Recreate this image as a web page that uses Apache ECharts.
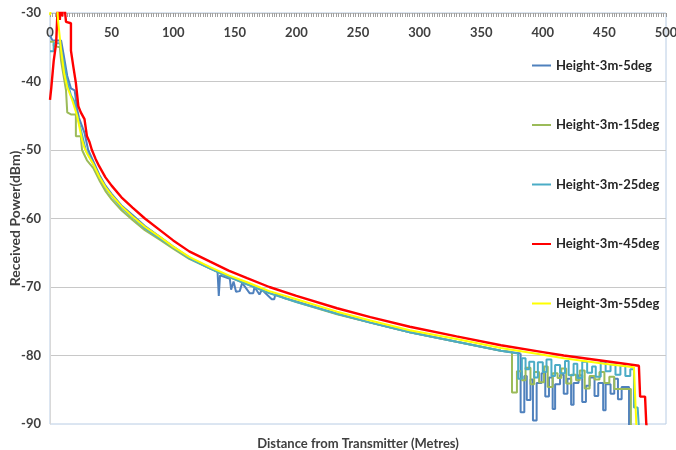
<!DOCTYPE html>
<html>
<head>
<meta charset="utf-8">
<title>Received Power vs Distance</title>
<script src="https://cdn.jsdelivr.net/npm/echarts@6/dist/echarts.min.js"></script>
<style>
    html, body { margin: 0; padding: 0; background: #fff; }
    #chart { width: 676px; height: 450px; }
</style>
</head>
<body>
<div id="chart"></div>
<script>
// series names (legend order)
var names = ['Height-3m-5deg', 'Height-3m-15deg', 'Height-3m-25deg', 'Height-3m-45deg', 'Height-3m-55deg'];
var colors = ['#4F81BD', '#9BBB59', '#4BACC6', '#FF0000', '#FFFF00'];

// 5 deg
var dist5 = [0, 2, 9, 11, 14, 17, 20, 22, 23.5, 28, 31, 35, 40, 45, 50, 58, 67, 77, 90, 100, 113, 130, 136, 137, 138, 146, 147, 149, 151, 154, 156, 162, 165, 166, 170, 172, 180, 182, 183, 190, 200, 233, 260, 292, 330, 366, 382];
var pow5 = [-33.3, -34, -34, -36, -39.2, -41, -41.3, -44, -45.3, -47.5, -50, -51.6, -53.6, -55.2, -56.4, -58.1, -59.5, -61.1, -62.8, -64.1, -65.7, -67.2, -67.8, -71.3, -68.3, -68.8, -70.4, -69.2, -70.7, -70.6, -69.4, -70.9, -70.9, -70.0, -71.1, -70.4, -71.8, -71.8, -71.0, -71.6, -72.1, -73.9, -75.2, -76.6, -78, -79.3, -79.7];
var noiseDist5 = [382, 382, 385, 387, 390, 392, 395, 399, 402, 405, 408, 410, 414, 417, 420, 423, 425, 429, 432, 435, 438, 442, 445, 449, 451, 455, 458, 461, 464, 470];
var noisePow5 = [-79.7, -88.3, -83.0, -86.5, -83.5, -89.5, -84.0, -82.6, -86.0, -83.2, -87.8, -84.2, -82.8, -85.6, -83.4, -87.2, -84.0, -82.9, -86.8, -84.4, -83.2, -85.9, -84.0, -88.0, -84.2, -85.6, -83.4, -86.4, -84.6, -90.5];

// 15 deg
var dist15 = [0, 3, 3, 8, 9, 13, 14, 17, 21, 21, 25, 26, 30, 35, 40, 45, 50, 58, 67, 77, 90, 100, 113, 130, 145, 160, 178, 200, 233, 260, 292, 330, 366, 375];
var pow15 = [-34.2, -34.2, -34.8, -35, -37, -41.3, -44.5, -44.8, -44.8, -48, -48, -50, -51.5, -52.6, -54.4, -56, -57.2, -58.8, -60.2, -61.7, -63.2, -64.4, -65.9, -67.3, -68.5, -69.6, -70.9, -72.2, -74, -75.2, -76.6, -78, -79.3, -79.5];
var noiseDist15 = [375, 375, 379, 383, 386, 390, 393, 397, 401, 404, 408, 412, 415, 419, 423, 427, 430, 434, 438, 442, 446, 450, 454, 458, 462, 471.5];
var noisePow15 = [-79.5, -85.4, -82.3, -83.6, -81.8, -84.2, -82.4, -83.9, -81.6, -84.6, -82.6, -83.3, -81.9, -84.1, -82.8, -83.6, -82.2, -84.8, -83.0, -83.5, -82.4, -84.0, -83.1, -84.9, -84.9, -90.5];

// 25 deg
var dist25 = [0, 3, 3, 8, 11, 14, 17, 20, 22, 25, 29, 35, 40, 45, 50, 58, 67, 77, 90, 100, 113, 130, 145, 160, 178, 200, 233, 260, 292, 330, 366, 380];
var pow25 = [-35.6, -35.6, -34.4, -34.4, -37, -40, -42, -43, -45, -47, -50, -52, -53.9, -55.5, -56.7, -58.4, -59.8, -61.4, -63, -64.2, -65.8, -67.3, -68.5, -69.6, -70.9, -72.2, -73.9, -75.2, -76.6, -78, -79.3, -79.7];
var noiseDist25 = [380, 380, 383, 386, 389, 393, 396, 400, 403, 407, 410, 414, 418, 421, 425, 428, 432, 436, 440, 443, 447, 451, 455, 459, 463, 467, 471, 474, 477, 478];
var noisePow25 = [-79.7, -83.4, -80.4, -82.0, -80.9, -83.2, -81.0, -82.4, -80.6, -83.0, -81.4, -82.6, -80.8, -82.9, -81.2, -83.3, -80.9, -82.5, -81.6, -83.1, -80.9, -82.3, -81.3, -82.8, -81.5, -83.0, -82.0, -87.6, -87.6, -90.5];

// 45 deg
var dist45 = [0, 1, 2.5, 3, 4.5, 5, 6, 7, 8, 9, 10, 11, 12, 13, 14, 17, 17, 19, 21, 23, 25, 28, 30, 32, 34, 37, 40, 45, 50, 58, 67, 77, 90, 100, 113, 130, 145, 160, 178, 200, 233, 260, 292, 330, 366, 400, 417, 450, 478, 479, 483, 484, 486];
var pow45 = [-42.7, -41, -41, -37, -37, -34.4, -30, -27, -31, -27.5, -30.5, -27, -29.5, -31.3, -31.5, -31.5, -35.5, -37.9, -40.2, -43.6, -44.5, -45.5, -48, -48.8, -50, -51.3, -52.4, -54, -55.2, -56.9, -58.4, -60, -61.8, -63.2, -64.8, -66.3, -67.6, -68.7, -70, -71.3, -73.1, -74.4, -75.8, -77.2, -78.5, -79.5, -80, -80.8, -81.5, -86, -86, -90, -92];

// 55 deg
var dist55 = [0, 1.5, 2, 5.5, 6.5, 9, 11.5, 14, 18, 22, 26, 28, 30, 35, 40, 45, 50, 58, 67, 77, 90, 100, 113, 130, 145, 160, 178, 200, 233, 260, 292, 330, 366, 400, 417, 450, 474, 476];
var pow55 = [-30.3, -30.3, -28, -28, -31, -35.4, -38.8, -40.8, -42.7, -45, -48.5, -49.7, -50.5, -52, -53.9, -55.4, -56.6, -58.2, -59.7, -61.2, -62.8, -64.1, -65.6, -67.1, -68.3, -69.3, -70.6, -71.8, -73.6, -74.9, -76.3, -77.6, -78.9, -79.9, -80.4, -81.2, -81.7, -90.5];

var xTicks = { min: 0, max: 500, step: 50 };
var yTicks = { min: -90, max: -30, step: 10 };

function pairs(xs, ys) {
    var out = [];
    for (var i = 0; i < xs.length; i++) {
        out.push([xs[i], ys[i]]);
    }
    return out;
}

function lineSeries(idx, xs, ys, step) {
    return {
        name: names[idx],
        type: 'line',
        data: pairs(xs, ys),
        step: step || false,
        showSymbol: false,
        symbol: 'none',
        clip: true,
        itemStyle: { color: colors[idx] },
        lineStyle: { color: colors[idx], width: idx === 3 ? 2.4 : 2 }
    };
}

function initChart() {
    var myChart = echarts.init(document.getElementById('chart'), null, { renderer: 'canvas' });
    var boldText = { fontFamily: 'Lato', fontWeight: 'bold', color: '#404040', fontSize: 13 };

    myChart.setOption({
        animation: false,
        textStyle: { fontFamily: 'Lato' },
        grid: {
            left: 50, right: 10, top: 13, bottom: 26,
            outerBoundsMode: 'none',
            containLabel: false,
            show: true,
            borderColor: '#b8cce4',
            borderWidth: 1
        },
        legend: {
            data: names,
            orient: 'vertical',
            left: 532,
            top: 59,
            padding: 0,
            icon: 'rect',
            itemWidth: 19,
            itemHeight: 2,
            itemGap: 46.5,
            textStyle: { fontFamily: 'Lato', fontWeight: 'bold', color: '#262626', fontSize: 13 }
        },
        xAxis: [
            {
                type: 'value',
                position: 'top',
                min: xTicks.min,
                max: xTicks.max,
                interval: xTicks.step,
                axisLine: { show: true, lineStyle: { color: '#bfbfbf', width: 1 } },
                axisTick: { show: true, inside: true, length: 4, lineStyle: { color: '#999999' } },
                minorTick: { show: true, splitNumber: 25, length: 4, lineStyle: { color: '#a0a0a0' } },
                axisLabel: { inside: true, margin: 13, fontFamily: 'Lato', fontWeight: 'bold', color: '#404040', fontSize: 13 },
                splitLine: { show: false }
            },
            {
                // bottom axis only carries the title
                type: 'value',
                position: 'bottom',
                min: xTicks.min,
                max: xTicks.max,
                axisLine: { show: false },
                axisTick: { show: false },
                axisLabel: { show: false },
                splitLine: { show: false },
                name: 'Distance from Transmitter (Metres)',
                nameLocation: 'middle',
                nameGap: 13,
                nameTextStyle: boldText
            }
        ],
        yAxis: {
            type: 'value',
            min: yTicks.min,
            max: yTicks.max,
            interval: yTicks.step,
            axisLine: { show: true, lineStyle: { color: '#d9d9d9' } },
            axisTick: { show: false },
            axisLabel: { margin: 9, fontFamily: 'Lato', fontWeight: 'bold', color: '#404040', fontSize: 13 },
            splitLine: { show: true, showMinLine: false, lineStyle: { color: '#c8c8c8', width: 1 } },
            name: 'Received Power(dBm)',
            nameLocation: 'middle',
            nameGap: 28,
            nameMoveOverlap: false,
            nameRotate: 90,
            nameTextStyle: { fontFamily: 'Lato', fontWeight: 'bold', color: '#404040', fontSize: 14 }
        },
        series: [
            lineSeries(0, dist5, pow5),
            lineSeries(0, noiseDist5, noisePow5, 'end'),
            lineSeries(1, dist15, pow15),
            lineSeries(1, noiseDist15, noisePow15, 'end'),
            lineSeries(2, dist25, pow25),
            lineSeries(2, noiseDist25, noisePow25, 'end'),
            lineSeries(3, dist45, pow45),
            lineSeries(4, dist55, pow55)
        ]
    });
}

initChart();
</script>
</body>
</html>
